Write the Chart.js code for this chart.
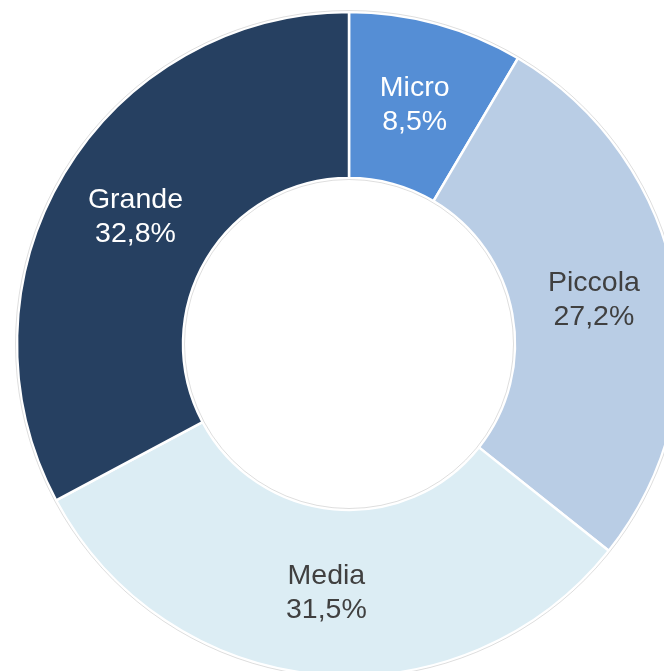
<!DOCTYPE html>
<html>
<head>
<meta charset="utf-8">
<script src="https://cdn.jsdelivr.net/npm/chart.js@4.4.1/dist/chart.umd.min.js"></script>
<style>
  html, body { margin: 0; padding: 0; background: #ffffff; overflow: hidden; width: 664px; height: 671px; }
  #wrap { position: absolute; left: -1px; top: -6px; width: 700px; height: 700px; }
</style>
</head>
<body>
<div id="wrap"><canvas id="c" width="700" height="700"></canvas></div>
<script>
const categories = ["Micro", "Piccola", "Media", "Grande"];
const shares = [8.5, 27.2, 31.5, 32.8];
const sliceColors = ["#558ED5", "#B9CDE5", "#DCEDF4", "#264061"];
const labelColors = ["#ffffff", "#404040", "#404040", "#ffffff"];

function fmt(v) { return v.toFixed(1).replace('.', ',') + '%'; }

const labelPlugin = {
  id: 'sliceLabels',
  afterDatasetsDraw(chart) {
    const ctx = chart.ctx;
    const meta = chart.getDatasetMeta(0);
    const a0 = meta.data[0];
    ctx.save();
    ctx.strokeStyle = 'rgba(0,0,0,0.13)';
    ctx.lineWidth = 1;
    ctx.beginPath();
    ctx.arc(a0.x, a0.y, a0.outerRadius + 1.5, 0, Math.PI * 2);
    ctx.stroke();
    ctx.beginPath();
    ctx.arc(a0.x, a0.y, a0.innerRadius - 1.5, 0, Math.PI * 2);
    ctx.stroke();
    ctx.restore();

    ctx.save();
    ctx.font = '28.5px "Liberation Sans", Arial, sans-serif';
    ctx.textAlign = 'center';
    ctx.textBaseline = 'middle';
    meta.data.forEach((arc, i) => {
      const p = arc.tooltipPosition();
      ctx.fillStyle = labelColors[i];
      ctx.fillText(categories[i], p.x, p.y - 16);
      ctx.fillText(fmt(shares[i]), p.x, p.y + 18);
    });
    ctx.restore();
  }
};

new Chart(document.getElementById('c'), {
  type: 'doughnut',
  data: {
    labels: categories,
    datasets: [{
      data: shares,
      backgroundColor: sliceColors,
      borderColor: '#ffffff',
      borderWidth: 2.5
    }]
  },
  options: {
    responsive: false,
    devicePixelRatio: 1,
    animation: false,
    radius: 332,
    cutout: '50%',
    layout: { padding: 0 },
    plugins: {
      legend: { display: false },
      tooltip: { enabled: false },
      title: { display: false }
    }
  },
  plugins: [labelPlugin]
});
</script>
</body>
</html>
